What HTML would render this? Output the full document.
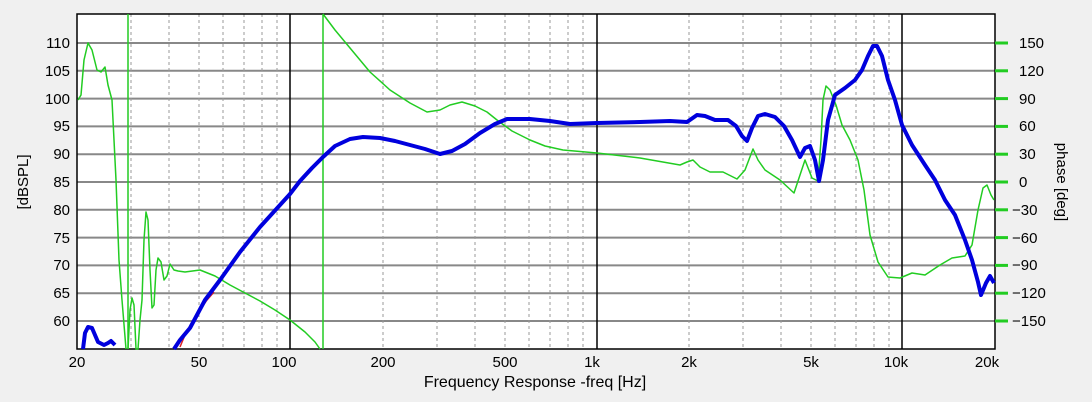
<!DOCTYPE html>
<html><head><meta charset="utf-8"><style>
body{margin:0;background:#f0f0f0;}
svg{display:block;font-family:"Liberation Sans",sans-serif;}
</style></head><body>
<svg width="1092" height="402" viewBox="0 0 1092 402">
<rect x="0" y="0" width="1092" height="402" fill="#f0f0f0"/>
<rect x="77" y="14" width="918" height="335" fill="#fff"/>
<g stroke="#888" stroke-width="2">
<line x1="77" y1="43" x2="995" y2="43"/><line x1="77" y1="70.8" x2="995" y2="70.8"/><line x1="77" y1="98.6" x2="995" y2="98.6"/><line x1="77" y1="126.4" x2="995" y2="126.4"/><line x1="77" y1="154.2" x2="995" y2="154.2"/><line x1="77" y1="182" x2="995" y2="182"/><line x1="77" y1="209.8" x2="995" y2="209.8"/><line x1="77" y1="237.6" x2="995" y2="237.6"/><line x1="77" y1="265.4" x2="995" y2="265.4"/><line x1="77" y1="293.2" x2="995" y2="293.2"/><line x1="77" y1="321" x2="995" y2="321"/>
</g>
<g stroke="#999" stroke-width="1" stroke-dasharray="3,3">
<line x1="131" y1="14" x2="131" y2="349"/><line x1="169" y1="14" x2="169" y2="349"/><line x1="199" y1="14" x2="199" y2="349"/><line x1="223" y1="14" x2="223" y2="349"/><line x1="244" y1="14" x2="244" y2="349"/><line x1="262" y1="14" x2="262" y2="349"/><line x1="277" y1="14" x2="277" y2="349"/>
<line x1="383" y1="14" x2="383" y2="349"/><line x1="437" y1="14" x2="437" y2="349"/><line x1="475" y1="14" x2="475" y2="349"/><line x1="505" y1="14" x2="505" y2="349"/><line x1="529" y1="14" x2="529" y2="349"/><line x1="550" y1="14" x2="550" y2="349"/><line x1="568" y1="14" x2="568" y2="349"/><line x1="583" y1="14" x2="583" y2="349"/>
<line x1="689" y1="14" x2="689" y2="349"/><line x1="743" y1="14" x2="743" y2="349"/><line x1="781" y1="14" x2="781" y2="349"/><line x1="811" y1="14" x2="811" y2="349"/><line x1="835" y1="14" x2="835" y2="349"/><line x1="856" y1="14" x2="856" y2="349"/><line x1="874" y1="14" x2="874" y2="349"/><line x1="889" y1="14" x2="889" y2="349"/>
</g>
<g stroke="#000" stroke-width="1.5">
<line x1="290" y1="14" x2="290" y2="349"/><line x1="597" y1="14" x2="597" y2="349"/><line x1="902" y1="14" x2="902" y2="349"/>
</g>
<rect x="77" y="14" width="918" height="335" fill="none" stroke="#000" stroke-width="1.5"/>
<g fill="none" stroke="#22cc22" stroke-width="1.5" stroke-linejoin="round">
<polyline points="78,100 81,95 84,60 88,43 92,50 97,70 101,72 105,67 108,85 112,100 116,180 119,260 122,300 126,349"/>
<line x1="128" y1="14" x2="128" y2="349"/>
<polyline points="128,349 130,310 132,298 134,305 136,349 138,349 140,320 142,300 144,240 146,212 148,220 150,270 152,308 154,305 156,270 158,258 161,262 164,280 167,276 170,264 174,270 178,271 185,272 200,270 215,276 230,285 245,293 260,301 275,310 290,320 305,332 315,342 320,349"/>
<line x1="323" y1="14" x2="323" y2="349"/>
<polyline points="323,14 335,30 350,48 370,72 390,90 410,103 427,112 440,110 450,105 462,102 475,106 487,112 497,120 512,131 530,140 545,146 563,150 597,153 640,158 680,165 687,162 693,160 700,167 710,172 723,172 737,179 745,170 753,149 758,160 765,170 780,180 794,193 800,175 805,160 812,178 818,181 821,140 823,100 826,86 830,90 836,105 842,125 850,140 858,160 864,190 870,235 878,262 888,277 900,278 912,273 925,275 940,265 952,258 965,256 972,245 978,210 983,188 987,185 991,195 994,200"/>
</g>
<polyline fill="none" stroke="#dd2222" stroke-width="1.5" points="180,347 185,335 192,322 200,310 207,300 214,292"/>
<g fill="none" stroke="#0000dd" stroke-width="4" stroke-linejoin="round">
<polyline points="83,349 85,333 88,327 92,328 95,335 98,342 104,345 108,343 111,341 115,345"/>
<polyline points="174,349 180,340 190,328 205,300 220,280 240,252 260,227 280,205 290,194 300,181 312,168 323,157 335,146 350,139 363,137 380,138 395,141 410,145 425,149 440,154 452,151 465,144 480,133 495,124 507,119 530,119 550,121 570,124 597,123 640,122 670,121 687,122 697,115 705,116 715,120 728,120 736,126 742,136 747,141 752,128 758,116 765,114 775,117 784,126 792,140 800,157 805,148 810,146 815,160 819,181 823,160 828,120 835,95 845,88 855,80 862,70 868,56 873,46 877,46 882,56 888,80 895,100 902,125 912,145 925,165 935,180 945,200 955,215 965,240 972,260 978,282 981,295 986,283 990,276 994,283"/>
</g>
<g font-size="15" fill="#000" text-anchor="end">
<text x="70" y="48">110</text><text x="70" y="76">105</text><text x="70" y="104">100</text><text x="70" y="131">95</text><text x="70" y="159">90</text><text x="70" y="187">85</text><text x="70" y="215">80</text><text x="70" y="243">75</text><text x="70" y="270">70</text><text x="70" y="298">65</text><text x="70" y="326">60</text>
</g>
<g stroke="#22cc22" stroke-width="3">
<line x1="995" y1="43" x2="1008" y2="43"/><line x1="995" y1="70.8" x2="1008" y2="70.8"/><line x1="995" y1="98.6" x2="1008" y2="98.6"/><line x1="995" y1="126.4" x2="1008" y2="126.4"/><line x1="995" y1="154.2" x2="1008" y2="154.2"/><line x1="995" y1="182" x2="1008" y2="182"/><line x1="995" y1="209.8" x2="1008" y2="209.8"/><line x1="995" y1="237.6" x2="1008" y2="237.6"/><line x1="995" y1="265.4" x2="1008" y2="265.4"/><line x1="995" y1="293.2" x2="1008" y2="293.2"/><line x1="995" y1="321" x2="1008" y2="321"/>
</g>
<g font-size="15" fill="#000">
<text x="1019" y="48">150</text><text x="1019" y="76">120</text><text x="1019" y="104">90</text><text x="1019" y="131">60</text><text x="1019" y="159">30</text><text x="1019" y="187">0</text><text x="1012" y="215">−30</text><text x="1012" y="243">−60</text><text x="1012" y="270">−90</text><text x="1012" y="298">−120</text><text x="1012" y="326">−150</text>
</g>
<g font-size="15" fill="#000" text-anchor="middle">
<text x="77" y="367">20</text><text x="199" y="367">50</text><text x="284" y="367">100</text><text x="383" y="367">200</text><text x="505" y="367">500</text><text x="592" y="367">1k</text><text x="689" y="367">2k</text><text x="811" y="367">5k</text><text x="896" y="367">10k</text><text x="987" y="367">20k</text>
<text x="535" y="387" font-size="16">Frequency Response -freq [Hz]</text>
</g>
<text transform="translate(28,182) rotate(-90)" font-size="15" text-anchor="middle">[dBSPL]</text>
<text transform="translate(1057,182) rotate(90)" font-size="15" text-anchor="middle">phase [deg]</text>
</svg>
</body></html>
